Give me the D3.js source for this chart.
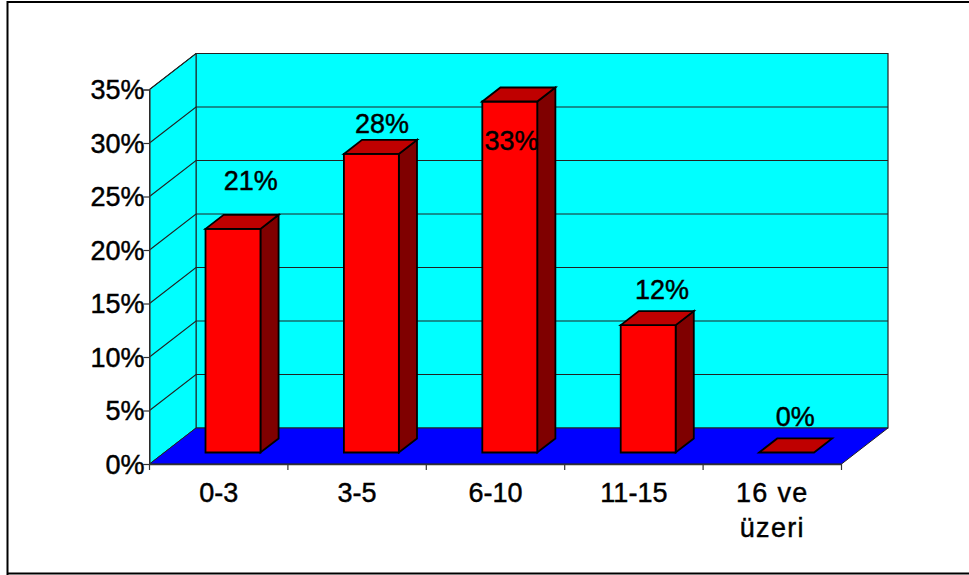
<!DOCTYPE html>
<html><head><meta charset="utf-8">
<style>html,body{margin:0;padding:0;background:#fff}svg{display:block}text{font-family:"Liberation Sans",Arial,sans-serif;fill:#000;stroke:#000;stroke-width:0.45px}</style>
<script src="https://cdn.jsdelivr.net/npm/d3@7"></script></head><body>
<script>
const categories = [["0-3"], ["3-5"], ["6-10"], ["11-15"], ["16 ve", "üzeri"]];
const values = [20.9, 27.9, 32.8, 11.9, 0];
const valueLabels = ["21%", "28%", "33%", "12%", "0%"];
const yTicks = [0, 5, 10, 15, 20, 25, 30, 35];

const W = 969, H = 575;
const svg = d3.select("body").append("svg").attr("width", W).attr("height", H);
const FONT = 27;
const y = d3.scaleLinear().domain([0, 35]).range([464, 89.5]);
const x = d3.scaleBand().domain(d3.range(categories.length)).range([149.5, 841.5]);
// depth: 0 = front plane of the floor, 1 = back wall
const dx = d3.scaleLinear().domain([0, 1]).range([0, 46.5]);
const dy = d3.scaleLinear().domain([0, 1]).range([0, -36]);
const pt = (px, py, d) => [px + dx(d), py + dy(d)];
const poly = pts => "M" + pts.map(p => p.join(",")).join("L") + "Z";

// frame
svg.append("path").attr("d", `M7.5,${H}V2H${W}M7.5,573.5H${W}`).attr("fill", "none").attr("stroke", "#000").attr("stroke-width", 2);

const [x0, x1] = x.range(), yb = y(0), yt = y(35);
// back wall
svg.append("path").attr("d", poly([pt(x0, yt, 1), pt(x1, yt, 1), pt(x1, yb, 1), pt(x0, yb, 1)]))
  .attr("fill", "#00ffff").attr("stroke", "#222").attr("stroke-width", 1.2);
// side wall
svg.append("path").attr("d", poly([pt(x0, yt, 0), pt(x0, yt, 1), pt(x0, yb, 1), pt(x0, yb, 0)]))
  .attr("fill", "#00ffff").attr("stroke", "#222").attr("stroke-width", 1);
// floor
svg.append("path").attr("d", poly([pt(x0, yb, 0), pt(x0, yb, 1), pt(x1, yb, 1), pt(x1, yb, 0)]))
  .attr("fill", "#0000ff").attr("stroke", "#222").attr("stroke-width", 1);

// gridlines
yTicks.filter(t => t > 0).forEach(t => {
  svg.append("path").attr("d", "M" + pt(x0, y(t), 0) + "L" + pt(x0, y(t), 1) + "L" + pt(x1, y(t), 1))
    .attr("fill", "none").attr("stroke", "#222").attr("stroke-width", 1.1);
});

// axes
const axisL = d3.axisLeft(y).tickValues(yTicks).tickFormat(d => d + "%").tickSize(6).tickPadding(0);
const gL = svg.append("g").attr("transform", `translate(${x0},0)`).call(axisL);
gL.selectAll("text").attr("font-size", FONT).attr("font-family", '"Liberation Sans"').attr("x", -5).attr("dy", "0.34em");
gL.selectAll("path,line").attr("stroke", "#333").attr("stroke-width", 1.2);

const axisB = d3.axisBottom(x).tickSize(0).tickFormat("");
const gB = svg.append("g").attr("transform", `translate(0,${yb})`).call(axisB);
gB.selectAll("path").attr("stroke", "#333").attr("stroke-width", 1.5);
gB.selectAll("text").remove();
d3.range(categories.length + 1).forEach(i => {
  const tx = x0 + i * x.step();
  gB.append("line").attr("x1", tx).attr("x2", tx).attr("y1", 0).attr("y2", 6).attr("stroke", "#333").attr("stroke-width", 1.2);
});

categories.forEach((lines, i) => {
  const t = svg.append("text").attr("text-anchor", "middle").attr("font-size", FONT);
  lines.forEach((l, j) => t.append("tspan").attr("x", x(i) + x.bandwidth() / 2).attr("y", 502 + j * 34.5)
    .attr("letter-spacing", lines.length > 1 ? 1.3 : 0).text(l));
});

// bars
const bw = x.bandwidth() * 0.397;
const barShift = -0.6;
const d0 = 0.32, d1 = 0.71;
values.forEach((v, i) => {
  const l = x(i) + x.bandwidth() / 2 - bw / 2 + barShift, r = l + bw;
  const top = y(v), bottom = y(0);
  const g = svg.append("g").attr("stroke", "#000").attr("stroke-width", 1.8).attr("stroke-linejoin", "miter");
  if (v > 0) {
    g.append("path").attr("d", poly([pt(r, top, d0), pt(r, top, d1), pt(r, bottom, d1), pt(r, bottom, d0)])).attr("fill", "#7f0000");
    g.append("path").attr("d", poly([pt(l, bottom, d0), pt(r, bottom, d0), pt(r, top, d0), pt(l, top, d0)])).attr("fill", "#ff0000");
  }
  g.append("path").attr("d", poly([pt(l, top, d0), pt(l, top, d1), pt(r, top, d1), pt(r, top, d0)])).attr("fill", "#bf0000");
});

// value labels, placed by hand in the original
const labelShift = [[-19, -25], [-26, -7], [-35, 63], [-23, -12], [-28, -12]];
values.forEach((v, i) => {
  const [sx, sy] = labelShift[i];
  const c = x(i) + x.bandwidth() / 2;
  const p = pt(c, y(v), d1);
  svg.append("text").attr("text-anchor", "middle").attr("font-size", FONT)
    .attr("x", p[0] + sx + 18).attr("y", p[1] + sy).text(valueLabels[i]);
});
</script></body></html>
